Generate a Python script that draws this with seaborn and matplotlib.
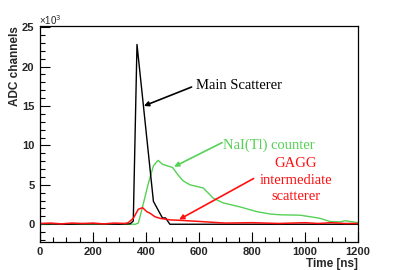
import matplotlib
matplotlib.use("Agg")
import matplotlib.pyplot as plt
from matplotlib.ticker import MultipleLocator
import seaborn as sns

# Data (values in units of 10^3 ADC channels)
t_main = [0, 100, 200, 300, 340, 352, 366, 428, 462, 474, 490, 600, 800, 1000, 1200]
v_main = [0.05, 0.0, 0.05, 0.0, 0.05, 0.4, 22.8, 2.9, 0.8, 0.8, 0.0, 0.0, 0.0, 0.0, 0.0]

t_nai = [0, 100, 200, 300, 360, 371, 384, 409, 428, 440, 446, 462, 500, 520, 540, 566,
         591, 616, 654, 692, 755, 818, 868, 906, 981, 1030, 1057, 1094, 1132, 1151, 1200]
v_nai = [0.0, 0.05, 0.0, 0.05, 0.0, 0.15, 1.8, 5.2, 7.4, 7.9, 8.1, 7.6, 7.2, 6.3, 5.5, 5.0,
         4.8, 4.6, 3.3, 2.7, 2.2, 1.6, 1.3, 1.2, 1.15, 0.9, 0.75, 0.35, 0.3, 0.45, 0.2]

t_gagg = [0, 40, 80, 120, 160, 200, 240, 280, 320, 333, 352, 371, 387, 403, 415, 434, 453,
          491, 528, 604, 650, 700, 800, 900, 1000, 1050, 1100, 1150, 1200]
v_gagg = [0.1, 0.15, 0.05, 0.15, 0.1, 0.15, 0.05, 0.15, 0.1, 0.2, 0.75, 1.9, 2.1, 1.6, 1.4, 0.95, 0.75,
          0.55, 0.5, 0.35, 0.25, 0.15, 0.2, 0.1, 0.2, 0.1, 0.2, 0.1, 0.1]

x_ticks = [0, 200, 400, 600, 800, 1000, 1200]
y_ticks = [0, 5, 10, 15, 20, 25]

sns.set_theme(style="ticks")
plt.rcParams['font.family'] = ['Liberation Sans', 'DejaVu Sans']

fig = plt.figure(figsize=(3.98, 2.70), dpi=100)
ax = fig.add_axes([0.1005, 0.1037, 0.7990, 0.7989])

GREEN = "#55d155"
RED = "#ff1010"

sns.lineplot(x=t_nai, y=v_nai, color=GREEN, lw=1.0, ax=ax)
sns.lineplot(x=t_main, y=v_main, color="black", lw=1.0, ax=ax)
sns.lineplot(x=t_gagg, y=v_gagg, color=RED, lw=1.1, ax=ax)

ax.set_xlim(0, 1200)
ax.set_ylim(-2.25, 25.1)
ax.set_xticks(x_ticks)
ax.set_yticks(y_ticks)
ax.set_xticklabels([str(v) for v in x_ticks])
ax.set_yticklabels([str(v) for v in y_ticks])
ax.xaxis.set_minor_locator(MultipleLocator(50))
ax.yaxis.set_minor_locator(MultipleLocator(1))
ax.tick_params(which='both', direction='in', top=False, right=False, width=0.8, color='black')
ax.tick_params(which='major', length=7)
ax.tick_params(which='minor', length=3.5)
ax.tick_params(axis='y', which='major', pad=4)
ax.tick_params(axis='x', which='major', pad=3.5)
for lab in ax.get_xticklabels() + ax.get_yticklabels():
    lab.set_fontweight('bold')
    lab.set_fontsize(8)
for s in ax.spines.values():
    s.set_visible(True)
    s.set_color('black')
    s.set_linewidth(0.9)

ax.set_xlabel("Time [ns]", loc='right', fontweight='bold', fontsize=8.5, labelpad=1)
ax.set_ylabel("ADC channels", loc='top', fontweight='bold', fontsize=8.5, labelpad=1)
fig.text(0.098, 0.925, "×10$^3$", fontsize=7, ha='left', va='center')

serif = ['Liberation Serif', 'DejaVu Serif']
arrow = dict(arrowstyle='-|>', lw=1.2, mutation_scale=7, shrinkA=0, shrinkB=0)

ax.annotate('', xy=(392, 15.0), xytext=(572, 17.4), arrowprops=dict(arrow, color='black'))
ax.text(589, 17.6, "Main Scatterer", family=serif, fontsize=10.5, ha='left', va='center', color='black')

ax.annotate('', xy=(506, 7.3), xytext=(687, 10.35), arrowprops=dict(arrow, color=GREEN))
ax.text(692, 10.05, "NaI(Tl) counter", family=serif, fontsize=10.5, ha='left', va='center', color=GREEN)

ax.annotate('', xy=(525, 0.6), xytext=(806, 5.8), arrowprops=dict(arrow, color=RED))
ax.text(966, 7.72, "GAGG", family=serif, fontsize=10.5, ha='center', va='center', color=RED)
ax.text(966, 5.61, "intermediate", family=serif, fontsize=10.5, ha='center', va='center', color=RED)
ax.text(966, 3.49, "scatterer", family=serif, fontsize=10.5, ha='center', va='center', color=RED)

fig.savefig("out.png", dpi=100)
